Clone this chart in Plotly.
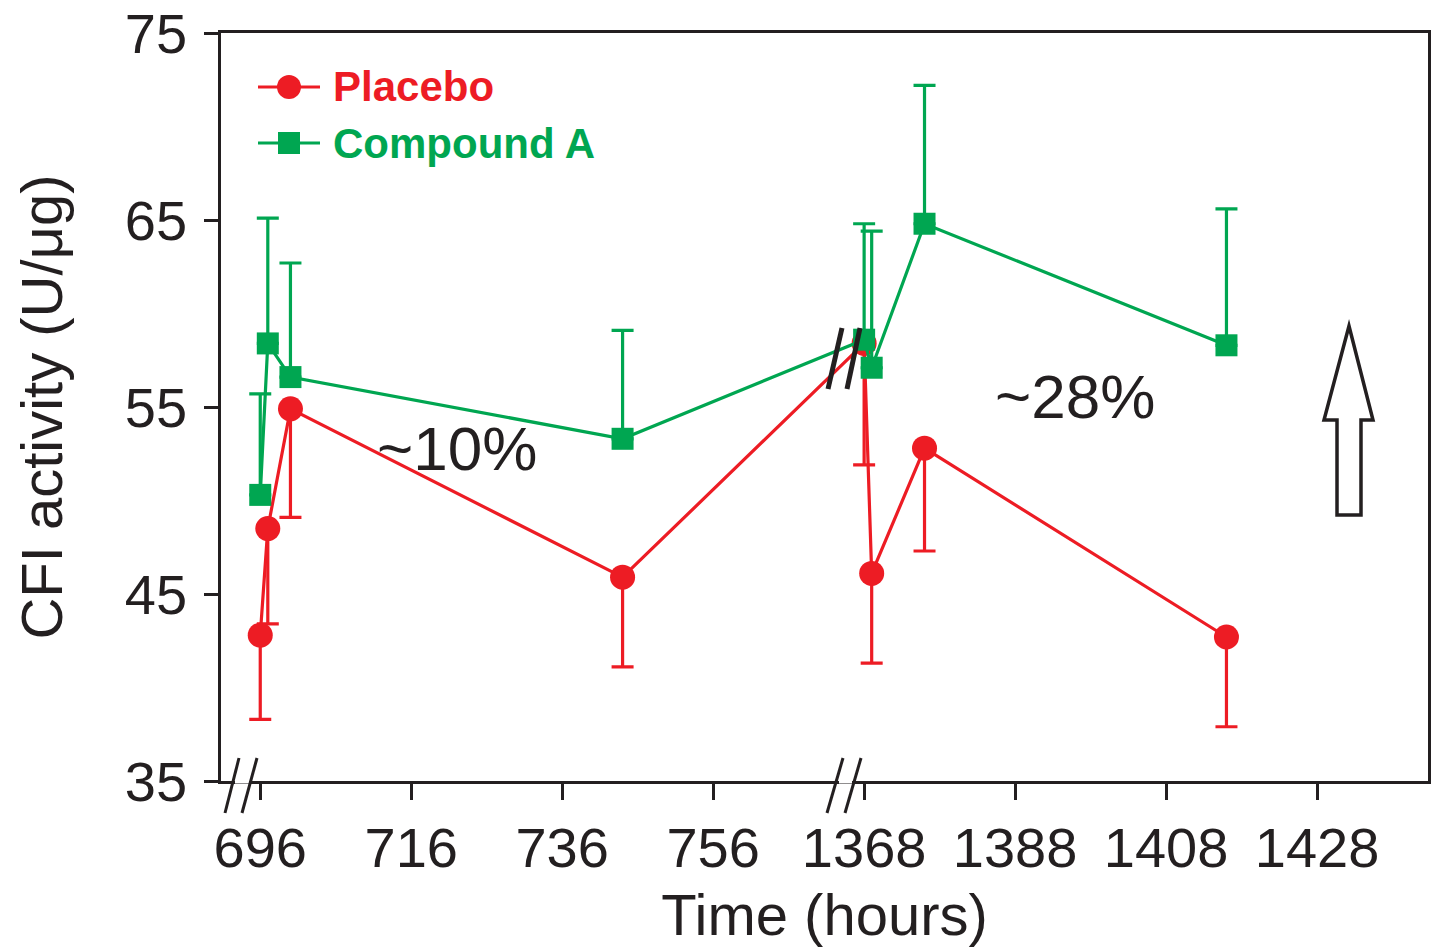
import plotly.graph_objects as go

# ---- data (hours, CFI activity U/ug) ----
hours = [696, 697, 700, 744, 1368, 1369, 1376, 1416]
placebo_mean = [42.8, 48.5, 54.9, 45.9, 58.4, 46.1, 52.8, 42.7]
placebo_err_minus = [4.5, 5.1, 5.8, 4.8, 6.5, 4.8, 5.5, 4.8]
compound_mean = [50.3, 58.4, 56.6, 53.3, 58.6, 57.1, 64.8, 58.3]
compound_err_plus = [5.4, 6.7, 6.1, 5.8, 6.2, 7.3, 7.4, 7.3]
tick_hours = [696, 716, 736, 756, 1368, 1388, 1408, 1428]
y_ticks = [35, 45, 55, 65, 75]

RED = "#ED1C24"
GREEN = "#00A651"
INK = "#231F20"
FONT = "Liberation Sans, Arial, sans-serif"

# broken axis: second segment (>=1368 h) is drawn right after the first
BREAK_SHIFT = 1368 - 776


def axis_pos(h):
    return h - BREAK_SHIFT if h >= 1000 else h


xs = [axis_pos(h) for h in hours]
tick_pos = [axis_pos(h) for h in tick_hours]

# pixel helpers for decorations (plot area 221..1428 x 33..781)
L, R, T, B = 221, 1428, 33, 781


def px(x):
    return (x - L) / (R - L)


def py(y):
    return (B - y) / (B - T)


fig = go.Figure()
fig.add_trace(go.Scatter(
    x=xs, y=placebo_mean, mode="lines+markers", name="Placebo",
    line=dict(color=RED, width=3.2),
    marker=dict(symbol="circle", size=25, color=RED),
    error_y=dict(type="data", symmetric=False,
                 array=[0] * len(placebo_mean), arrayminus=placebo_err_minus,
                 color=RED, thickness=3.2, width=11),
    showlegend=False,
))
fig.add_trace(go.Scatter(
    x=xs, y=compound_mean, mode="lines+markers", name="Compound A",
    line=dict(color=GREEN, width=3.2),
    marker=dict(symbol="square", size=22, color=GREEN),
    error_y=dict(type="data", symmetric=False,
                 array=compound_err_plus, arrayminus=[0] * len(compound_mean),
                 color=GREEN, thickness=3.2, width=11),
    showlegend=False,
))

shapes = []
# custom legend symbols
for yy, col, sym in [(87, RED, "circle"), (143, GREEN, "square")]:
    shapes.append(dict(type="line", xref="paper", yref="paper",
                       x0=px(258), x1=px(320), y0=py(yy), y1=py(yy),
                       line=dict(color=col, width=3.2)))
    r = 12 if sym == "circle" else 11
    shapes.append(dict(type=sym if sym == "circle" else "rect", xref="paper", yref="paper",
                       x0=px(289 - r), x1=px(289 + r), y0=py(yy - r), y1=py(yy + r),
                       fillcolor=col, line=dict(color=col, width=0)))

# axis break gaps (white) and slashes
for gx0, gx1 in [(235, 249), (839, 852)]:
    shapes.append(dict(type="line", xref="paper", yref="paper", layer="above",
                       x0=px(gx0), x1=px(gx1), y0=py(B), y1=py(B),
                       line=dict(color="white", width=5)))
for (tx, bx) in [(239, 225), (257, 242), (843, 827), (861, 845)]:
    shapes.append(dict(type="line", xref="paper", yref="paper", layer="above",
                       x0=px(bx), x1=px(tx), y0=py(813), y1=py(758),
                       line=dict(color=INK, width=3)))
# break marks on the data lines
for (tx, bx) in [(842, 828), (860, 847)]:
    shapes.append(dict(type="line", xref="paper", yref="paper", layer="above",
                       x0=px(bx), x1=px(tx), y0=py(389), y1=py(328),
                       line=dict(color=INK, width=5)))

# hollow up arrow
arrow_pts = [(1349, 326), (1373, 420), (1361, 420), (1361, 515), (1337, 515),
             (1337, 420), (1324, 420)]
path = "M " + " L ".join(f"{px(x):.5f},{py(y):.5f}" for x, y in arrow_pts) + " Z"
shapes.append(dict(type="path", xref="paper", yref="paper", path=path,
                   fillcolor="white", line=dict(color=INK, width=3.5)))

annotations = [
    dict(x=px(331), y=py(87), xref="paper", yref="paper", text="<b>Placebo</b>",
         showarrow=False, xanchor="left", yanchor="middle",
         font=dict(family=FONT, size=42, color=RED)),
    dict(x=px(331), y=py(143), xref="paper", yref="paper", text="<b>Compound A</b>",
         showarrow=False, xanchor="left", yanchor="middle",
         font=dict(family=FONT, size=42, color=GREEN)),
    dict(x=px(457), y=py(448), xref="paper", yref="paper", text="~10%",
         showarrow=False, xanchor="center", yanchor="middle",
         font=dict(family=FONT, size=62, color=INK)),
    dict(x=px(1075), y=py(397), xref="paper", yref="paper", text="~28%",
         showarrow=False, xanchor="center", yanchor="middle",
         font=dict(family=FONT, size=62, color=INK)),
]

fig.update_layout(
    width=1432, height=947,
    margin=dict(l=L, r=1432 - R, t=T, b=947 - B, autoexpand=False),
    paper_bgcolor="white", plot_bgcolor="white",
    font=dict(family=FONT, color=INK),
    shapes=shapes, annotations=annotations,
    xaxis=dict(
        range=[690.8, 850.7], tickmode="array", tickvals=tick_pos,
        ticktext=[str(t) for t in tick_hours],
        showgrid=False, zeroline=False, showline=True, mirror=True,
        linecolor=INK, linewidth=2.5, ticks="outside", ticklen=16, tickwidth=2.5,
        tickcolor=INK, tickfont=dict(size=56, color=INK, family=FONT),
        title=dict(text="Time (hours)", font=dict(size=58, color=INK, family=FONT), standoff=24),
        automargin=False,
    ),
    yaxis=dict(
        range=[35, 75], tickmode="array", tickvals=y_ticks,
        showgrid=False, zeroline=False, showline=True, mirror=True,
        linecolor=INK, linewidth=2.5, ticks="outside", ticklen=14, tickwidth=2.5,
        tickcolor=INK, tickfont=dict(size=56, color=INK, family=FONT),
        ticklabelstandoff=6,
        title=dict(text="CFI activity (U/μg)", font=dict(size=58, color=INK, family=FONT), standoff=44),
        automargin=False,
    ),
)

fig.write_html(
    "out.html",
    config={"displayModeBar": False},
    post_script="document.body.style.margin='0px';document.body.style.overflow='hidden';",
)
